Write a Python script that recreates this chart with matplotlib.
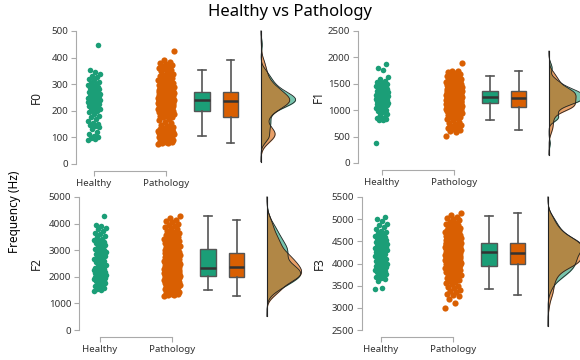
import numpy as np
import matplotlib
matplotlib.use("Agg")
import matplotlib.pyplot as plt

GREEN = "#1b9e77"
ORANGE = "#d95f02"

groups = ["Healthy", "Pathology"]
formants = ["F0", "F1", "F2", "F3"]

# y ticks per panel
ticks = {
    "F0": [0, 100, 200, 300, 400, 500],
    "F1": [0, 500, 1000, 1500, 2000, 2500],
    "F2": [0, 1000, 2000, 3000, 4000, 5000],
    "F3": [2500, 3000, 3500, 4000, 4500, 5000, 5500],
}

f0_healthy = [90, 93, 96, 100, 105, 112, 120, 130, 138, 142, 146, 150, 155, 160, 168, 175, 182, 188, 194, 199,
              203, 206, 209, 212, 215, 217, 219, 221, 223, 225, 227, 229, 230, 231, 233, 234, 235, 236, 237, 238,
              240, 241, 242, 243, 244, 245, 247, 248, 250, 252, 254, 255, 257, 259, 261, 263, 265, 266, 268, 270,
              272, 275, 278, 281, 284, 287, 290, 294, 298, 302, 306, 310, 315, 320, 326, 332, 338, 345, 352, 448]
f0_pathology = [75, 78, 80, 82, 84, 86, 88, 90, 92, 94, 96, 98, 100, 101, 102, 104, 105, 106, 108, 109,
                110, 111, 112, 113, 114, 115, 116, 117, 118, 119, 120, 121, 122, 123, 124, 125, 126, 128, 130, 132,
                134, 137, 140, 144, 148, 153, 158, 164, 170, 175,
                178, 180, 182, 184, 186, 188, 190, 191, 193, 195, 196, 198, 199, 201, 202, 204, 205, 207, 208, 210,
                211, 212, 214, 215, 216, 217, 218, 219, 220, 221, 222, 223, 224, 225, 226, 226, 227, 228, 229, 229,
                230, 230, 231, 231, 232, 232, 233, 233, 234, 234,
                235, 235, 236, 236, 237, 237, 238, 238, 239, 239, 240, 240, 241, 241, 242, 242, 243, 243, 244, 244,
                245, 245, 246, 247, 248, 249, 250, 250, 251, 252, 253, 254, 255, 256, 257, 258, 259, 260, 261, 262,
                263, 264, 265, 266, 267, 268, 269, 270, 271, 272,
                273, 274, 275, 276, 277, 278, 279, 280, 281, 282, 283, 284, 286, 287, 288, 290, 291, 293, 294, 296,
                298, 300, 302, 304, 306, 308, 310, 312, 315, 318, 320, 323, 326, 330, 333, 336, 340, 344, 348, 352,
                356, 360, 364, 368, 372, 376, 380, 385, 391, 425]

f1_healthy = [370, 815, 820, 830, 845, 860, 880, 900, 930, 960, 990, 1010, 1030, 1050, 1070, 1085, 1095, 1105, 1115, 1125,
              1135, 1140, 1146, 1152, 1158, 1164, 1170, 1176, 1182, 1188, 1194, 1200, 1206, 1212, 1218, 1224, 1230, 1236, 1242, 1248,
              1252, 1258, 1264, 1270, 1276, 1282, 1288, 1294, 1300, 1306, 1312, 1318, 1324, 1330, 1336, 1342, 1348, 1354, 1360, 1366,
              1372, 1380, 1390, 1400, 1410, 1420, 1432, 1444, 1456, 1470, 1485, 1500, 1520, 1540, 1560, 1590, 1620, 1760, 1790, 1870]
f1_pathology = [520, 580, 600, 627, 645, 665, 685, 705, 725, 745, 765, 785, 805, 825, 845, 862, 878, 893, 907, 920,
                932, 943, 953, 962, 970, 978, 985, 992, 998, 1004, 1009, 1014, 1018, 1022, 1026, 1030, 1033, 1036, 1039, 1042,
                1044, 1046, 1048, 1050, 1051, 1052, 1053, 1054, 1054, 1055,
                1058, 1062, 1066, 1070, 1074, 1078, 1082, 1086, 1090, 1094, 1098, 1102, 1106, 1110, 1113, 1116, 1119, 1122, 1125, 1128,
                1131, 1134, 1137, 1140, 1143, 1146, 1149, 1152, 1155, 1158, 1161, 1164, 1167, 1170, 1173, 1176, 1179, 1182, 1185, 1188,
                1191, 1194, 1197, 1200, 1204, 1208, 1212, 1216, 1220, 1224,
                1227, 1230, 1233, 1236, 1239, 1242, 1245, 1248, 1251, 1254, 1257, 1260, 1263, 1266, 1269, 1272, 1275, 1278, 1281, 1284,
                1287, 1290, 1293, 1296, 1299, 1302, 1305, 1308, 1311, 1314, 1317, 1320, 1323, 1326, 1329, 1332, 1335, 1338, 1341, 1344,
                1347, 1350, 1353, 1356, 1359, 1361, 1363, 1365, 1367, 1368,
                1370, 1374, 1378, 1382, 1386, 1390, 1395, 1400, 1405, 1410, 1415, 1420, 1426, 1432, 1438, 1444, 1450, 1456, 1462, 1468,
                1475, 1482, 1489, 1496, 1503, 1510, 1518, 1526, 1534, 1542, 1550, 1558, 1566, 1574, 1582, 1590, 1600, 1610, 1620, 1630,
                1640, 1650, 1660, 1675, 1690, 1705, 1720, 1735, 1745, 1900]

f2_healthy = [1480, 1520, 1560, 1590, 1620, 1660, 1700, 1740, 1770, 1800, 1830, 1860, 1880, 1900, 1920, 1950, 1970, 1990, 2010, 2030,
              2050, 2065, 2080, 2095, 2110, 2125, 2140, 2155, 2170, 2185, 2200, 2215, 2230, 2245, 2260, 2275, 2290, 2305, 2320, 2340,
              2380, 2420, 2460, 2500, 2540, 2580, 2620, 2660, 2700, 2740, 2780, 2820, 2860, 2890, 2920, 2950, 2980, 3000, 3020, 3035,
              3060, 3100, 3140, 3180, 3220, 3260, 3300, 3340, 3380, 3420, 3480, 3540, 3600, 3660, 3720, 3780, 3850, 3920, 3960, 4270]
f2_pathology = [1280, 1300, 1320, 1340, 1360, 1380, 1400, 1420, 1440, 1460, 1480, 1500, 1520, 1540, 1560, 1580, 1600, 1620, 1640, 1660,
                1680, 1700, 1715, 1730, 1745, 1760, 1775, 1790, 1805, 1820, 1835, 1850, 1860, 1870, 1880, 1890, 1900, 1910, 1920, 1930,
                1940, 1948, 1955, 1960, 1965, 1970, 1975, 1978, 1981, 1984,
                1990, 1998, 2006, 2014, 2022, 2030, 2038, 2046, 2054, 2062, 2070, 2078, 2086, 2094, 2102, 2110, 2118, 2126, 2134, 2142,
                2150, 2158, 2166, 2174, 2182, 2190, 2198, 2206, 2214, 2222, 2230, 2238, 2246, 2254, 2262, 2270, 2278, 2286, 2294, 2302,
                2310, 2318, 2326, 2334, 2340, 2345, 2350, 2354, 2358, 2361,
                2370, 2380, 2390, 2400, 2410, 2420, 2430, 2440, 2450, 2460, 2470, 2480, 2490, 2500, 2510, 2520, 2530, 2540, 2550, 2560,
                2570, 2580, 2590, 2600, 2610, 2620, 2630, 2640, 2650, 2660, 2670, 2680, 2690, 2700, 2710, 2720, 2730, 2740, 2750, 2760,
                2770, 2780, 2790, 2800, 2810, 2820, 2835, 2850, 2865, 2885,
                2900, 2915, 2930, 2945, 2960, 2975, 2990, 3010, 3030, 3050, 3070, 3090, 3110, 3130, 3150, 3170, 3190, 3210, 3230, 3250,
                3270, 3290, 3310, 3330, 3350, 3370, 3390, 3410, 3430, 3450, 3480, 3510, 3540, 3570, 3600, 3630, 3660, 3700, 3740, 3780,
                3820, 3860, 3900, 3950, 4000, 4050, 4100, 4146, 4200, 4300]

f3_healthy = [3430, 3440, 3600, 3650, 3680, 3700, 3720, 3740, 3760, 3780, 3800, 3820, 3840, 3860, 3880, 3900, 3915, 3930, 3940, 3950,
              3965, 3980, 3995, 4010, 4025, 4040, 4055, 4070, 4085, 4100, 4115, 4130, 4145, 4160, 4175, 4190, 4205, 4220, 4240, 4260,
              4280, 4290, 4300, 4310, 4320, 4330, 4340, 4350, 4360, 4370, 4380, 4390, 4400, 4410, 4420, 4430, 4440, 4450, 4460, 4470,
              4480, 4495, 4510, 4530, 4550, 4570, 4590, 4610, 4630, 4650, 4680, 4700, 4740, 4780, 4820, 4860, 4900, 4950, 5000, 5060]
f3_pathology = [3000, 3120, 3200, 3260, 3290, 3320, 3350, 3380, 3410, 3440, 3470, 3500, 3530, 3560, 3590, 3610, 3630, 3650, 3670, 3690,
                3710, 3730, 3750, 3765, 3780, 3795, 3810, 3825, 3840, 3850, 3860, 3870, 3880, 3890, 3900, 3908, 3916, 3924, 3932, 3940,
                3946, 3952, 3958, 3964, 3970, 3975, 3980, 3984, 3988, 3991,
                3997, 4002, 4007, 4012, 4017, 4022, 4027, 4032, 4037, 4042, 4047, 4052, 4057, 4062, 4067, 4072, 4077, 4082, 4087, 4092,
                4097, 4102, 4107, 4112, 4117, 4122, 4127, 4132, 4137, 4142, 4147, 4152, 4157, 4162, 4167, 4172, 4177, 4182, 4187, 4192,
                4197, 4202, 4207, 4212, 4217, 4222, 4227, 4232, 4238, 4245,
                4250, 4255, 4260, 4265, 4270, 4275, 4280, 4285, 4290, 4295, 4300, 4305, 4310, 4315, 4320, 4325, 4330, 4335, 4340, 4345,
                4350, 4355, 4360, 4365, 4370, 4375, 4380, 4385, 4390, 4395, 4400, 4405, 4410, 4415, 4420, 4425, 4430, 4435, 4440, 4445,
                4450, 4454, 4458, 4462, 4465, 4467, 4469, 4470, 4471, 4472,
                4476, 4482, 4488, 4494, 4500, 4507, 4514, 4521, 4528, 4535, 4542, 4549, 4556, 4563, 4570, 4578, 4586, 4594, 4602, 4610,
                4620, 4630, 4640, 4650, 4660, 4670, 4680, 4690, 4700, 4712, 4724, 4736, 4748, 4760, 4775, 4790, 4805, 4820, 4840, 4860,
                4880, 4900, 4920, 4945, 4970, 4995, 5020, 5060, 5100, 5140]

# box stats as drawn: whisker low, q1, median, q3, whisker high
f0_box = {"Healthy": [105, 201, 239, 270, 353], "Pathology": [79, 177, 235, 272, 391]}
f1_box = {"Healthy": [816, 1130, 1249, 1368, 1645], "Pathology": [627, 1055, 1225, 1368, 1745]}
f2_box = {"Healthy": [1508, 2035, 2349, 3040, 4272], "Pathology": [1281, 1985, 2362, 2890, 4146]}
f3_box = {"Healthy": [3433, 3953, 4270, 4473, 5061], "Pathology": [3290, 3992, 4247, 4473, 5138]}

points = {
    "F0": (f0_healthy, f0_pathology),
    "F1": (f1_healthy, f1_pathology),
    "F2": (f2_healthy, f2_pathology),
    "F3": (f3_healthy, f3_pathology),
}
boxes = {"F0": f0_box, "F1": f1_box, "F2": f2_box, "F3": f3_box}

# pixel layout of each panel: y spine x, "Healthy" x, top, bottom, ylabel x
W, H = 580, 360
UNIT = 72.0
layout = {
    "F0": (76, 94, 31, 164, 43),
    "F1": (358, 382, 31, 163, 325),
    "F2": (79, 100, 197, 330, 43),
    "F3": (362, 381, 197, 330, 326),
}


def nrd0(values):
    v = np.asarray(values, float)
    q75, q25 = np.percentile(v, [75, 25])
    return 0.9 * min(v.std(ddof=1), (q75 - q25) / 1.34) * len(v) ** -0.2


def kde(values, grid):
    v = np.asarray(values, float)
    bw = nrd0(v)
    z = (grid[:, None] - v[None, :]) / bw
    return np.exp(-0.5 * z ** 2).sum(1) / (len(v) * bw * np.sqrt(2 * np.pi))


def jitter(n, half):
    # deterministic spread, golden ratio steps
    return ((np.arange(n) * 0.6180339887) % 1.0 - 0.5) * 2 * half


plt.rcParams["font.family"] = ["Noto Sans", "DejaVu Sans"]
fig = plt.figure(figsize=(W / 100, H / 100), dpi=100)

box_pos = [1.5, 1.9]
dens_base = 2.32
dens_width = 0.48

for name in formants:
    spine_px, healthy_px, top_px, bottom_px, lab_px = layout[name]
    width_px = 240
    ax = fig.add_axes([spine_px / W, 1 - bottom_px / H, width_px / W, (bottom_px - top_px) / H])
    left = (spine_px - healthy_px) / UNIT
    ax.set_xlim(left, left + width_px / UNIT)
    yt = ticks[name]
    ax.set_ylim(yt[0], yt[-1])

    healthy, pathology = points[name]
    for i, (vals, col, half, size) in enumerate([(healthy, GREEN, 0.085, 16), (pathology, ORANGE, 0.11, 20)]):
        ax.scatter(i + jitter(len(vals), half), vals, s=size, color=col, linewidths=0, zorder=3, clip_on=False)

    for pos, grp, col in zip(box_pos, groups, [GREEN, ORANGE]):
        lo, q1, med, q3, hi = boxes[name][grp]
        ax.bxp([dict(whislo=lo, q1=q1, med=med, q3=q3, whishi=hi, fliers=[])],
               positions=[pos], widths=0.21, capwidths=0.1, patch_artist=True, showfliers=False,
               boxprops=dict(facecolor=col, edgecolor="#555555", linewidth=1.0),
               whiskerprops=dict(color="#555555", linewidth=1.2),
               capprops=dict(color="#555555", linewidth=1.2),
               medianprops=dict(color="#333333", linewidth=1.8))

    allv = np.concatenate([healthy, pathology])
    ext = 3 * max(nrd0(healthy), nrd0(pathology))
    grid = np.linspace(max(allv.min() - ext, yt[0]), min(allv.max() + ext, yt[-1]), 400)
    dh = kde(healthy, grid)
    dp = kde(pathology, grid)
    scale = dens_width / max(dh.max(), dp.max())
    ax.fill_betweenx(grid, dens_base, dens_base + dh * scale, color=GREEN, alpha=0.6, lw=0, zorder=2, clip_on=False)
    ax.fill_betweenx(grid, dens_base, dens_base + dp * scale, color=ORANGE, alpha=0.6, lw=0, zorder=2, clip_on=False)
    ax.plot(dens_base + dh * scale, grid, color="#222222", lw=0.6, zorder=2, clip_on=False)
    ax.plot(dens_base + dp * scale, grid, color="#222222", lw=0.6, zorder=2, clip_on=False)
    ax.plot([dens_base, dens_base], [grid[0], grid[-1]], color="#222222", lw=0.8, zorder=2, clip_on=False)

    ax.set_yticks(yt)
    ax.set_xticks([0, 1])
    ax.set_xticklabels(groups)
    for s in ["top", "right"]:
        ax.spines[s].set_visible(False)
    ax.spines["left"].set_bounds(yt[0], yt[-1])
    ax.spines["bottom"].set_bounds(0, 1)
    ax.spines["bottom"].set_position(("outward", 5))
    for s in ["left", "bottom"]:
        ax.spines[s].set_color("#aaaaaa")
        ax.spines[s].set_linewidth(0.8)
    ax.tick_params(axis="both", colors="#aaaaaa", labelcolor="#333333", labelsize=7, length=3.5, width=0.8, pad=2)
    ax.patch.set_visible(False)
    ax.set_ylabel(name, fontsize=8.5, color="#222222")
    ax.yaxis.set_label_coords((lab_px - spine_px) / width_px, 0.5)

fig.text(290 / W, 1 - 12 / H, "Healthy vs Pathology", ha="center", va="center", fontsize=12, color="black")
fig.text(15 / W, 1 - 212 / H, "Frequency (Hz)", ha="center", va="center", rotation=90, fontsize=8.5, color="black")

fig.savefig("out.png", dpi=100)
